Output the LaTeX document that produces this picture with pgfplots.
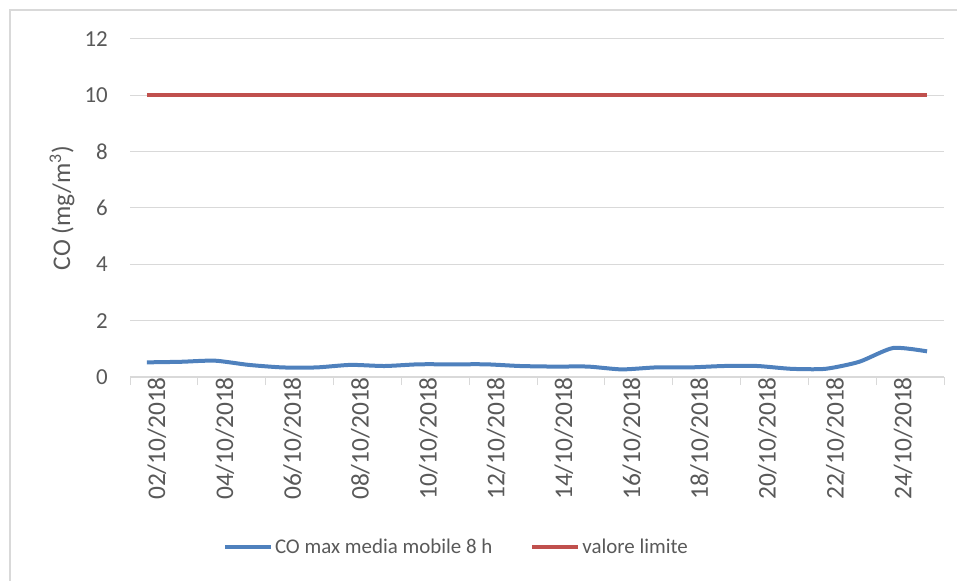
\documentclass[border=0pt]{standalone}
\usepackage{pgfplots}
\pgfplotsset{compat=1.18}
\usepackage{fontspec}
\setmainfont{Carlito}
\definecolor{txt}{HTML}{595959}
\definecolor{gridc}{HTML}{D9D9D9}
\definecolor{blueS}{HTML}{4F81BD}
\definecolor{redS}{HTML}{C0504D}
\begin{document}
\begin{tikzpicture}
\useasboundingbox (0,0) rectangle (957bp,581bp);
\draw[gridc, line width=2bp] (10bp,0) -- (10bp,571bp) -- (957bp,571bp);
\begin{axis}[
  at={(130bp,204bp)}, anchor=south west,
  scale only axis, width=814bp, height=338bp,
  xmin=-0.5, xmax=23.5, ymin=0, ymax=12,
  axis line style={draw=none},
  axis x line*=bottom, axis y line*=left,
  ytick={0,2,...,12},
  ymajorgrids, grid style={gridc, line width=1bp},
  xtick={0,2,...,22},
  xticklabels={02/10/2018,04/10/2018,06/10/2018,08/10/2018,10/10/2018,12/10/2018,14/10/2018,16/10/2018,18/10/2018,20/10/2018,22/10/2018,24/10/2018},
  major tick length=0pt,
  extra x ticks={-0.5,1.5,...,23.5},
  extra x tick labels={},
  extra x tick style={tick align=outside, major tick length=8bp, tick style={gridc, line width=1bp}, grid=none},
  tick label style={font=\fontsize{23}{27}\selectfont, text=txt},
  /pgf/number format/assume math mode=true,
  xticklabel style={rotate=90, anchor=east, inner sep=0pt, xshift=0bp, yshift=-10bp, font=\fontsize{25.5}{29}\selectfont},
  yticklabel style={anchor=east, inner sep=0pt, xshift=-22bp},
  ylabel={CO (mg/m\textsuperscript{3})},
  ylabel style={at={(axis description cs:-0.0835,0.5)}, anchor=center, font=\fontsize{25.5}{30}\selectfont, text=txt},
  legend style={at={(axis description cs:0.401,-0.503)}, anchor=center, draw=none, fill=none,
    font=\fontsize{21}{25}\selectfont, text=txt, legend columns=2,
    /tikz/every even column/.style={column sep=36bp}, inner sep=0pt},
  legend cell align=left,
  legend image code/.code={\draw[#1] (0bp,0bp) -- (46bp,0bp);},
  clip=false,
]
\draw[gridc, line width=1.5bp] (axis cs:-0.5,0) -- (axis cs:23.5,0);
\addplot[blueS, line width=4bp, smooth, tension=0.4] coordinates {
(0,0.52) (1,0.54) (2,0.58) (3,0.43) (4,0.34) (5,0.34) (6,0.43) (7,0.39)
(8,0.45) (9,0.45) (10,0.45) (11,0.39) (12,0.37) (13,0.37) (14,0.27) (15,0.34)
(16,0.34) (17,0.39) (18,0.39) (19,0.29) (20,0.29) (21,0.54) (22,1.03) (23,0.91)
};
\addlegendentry{CO max media mobile 8 h}
\addplot[redS, line width=4bp] coordinates {
(0,10) (1,10) (2,10) (3,10) (4,10) (5,10) (6,10) (7,10)
(8,10) (9,10) (10,10) (11,10) (12,10) (13,10) (14,10) (15,10)
(16,10) (17,10) (18,10) (19,10) (20,10) (21,10) (22,10) (23,10)
};
\addlegendentry{valore limite}
\end{axis}
\end{tikzpicture}
\end{document}
